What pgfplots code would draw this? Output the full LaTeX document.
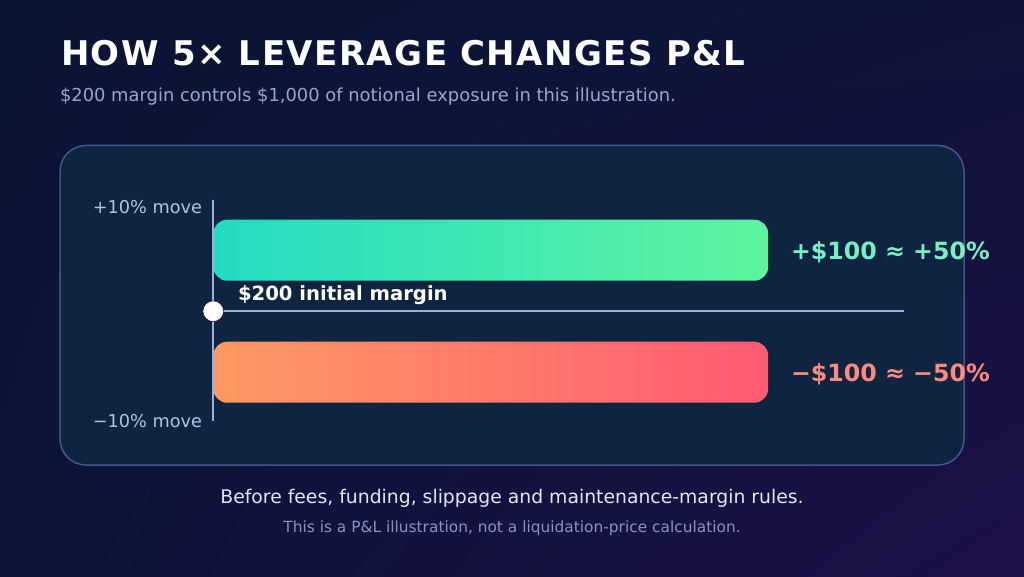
\documentclass[border=0pt]{standalone}
\usepackage{pgfplots}
\usepackage{fontspec}
\usetikzlibrary{shadings}
\pgfplotsset{compat=1.18}
\setmainfont{DejaVu Sans}
\newfontfamily\titlefont[LetterSpace=4.3]{DejaVu Sans}
\definecolor{bgTL}{HTML}{0A1434}
\definecolor{bgTR}{HTML}{10143A}
\definecolor{bgBL}{HTML}{0C1438}
\definecolor{bgBR}{HTML}{1D1048}
\definecolor{panel}{HTML}{0F2441}
\definecolor{panelb}{HTML}{46558C}
\definecolor{axisc}{HTML}{9AAEDF}
\definecolor{upA}{HTML}{22DCC2}
\definecolor{upB}{HTML}{5EF5A0}
\definecolor{dnA}{HTML}{FF9A62}
\definecolor{dnB}{HTML}{FF5A72}
\definecolor{upT}{HTML}{76F2C2}
\definecolor{dnT}{HTML}{FF8A80}
\definecolor{sub}{HTML}{98A6CF}
\definecolor{lab}{HTML}{B4C2E2}
\definecolor{foot}{HTML}{DFE6F5}
\definecolor{foot2}{HTML}{8892C0}
\newcommand{\fs}[1]{\fontsize{#1pt}{#1pt}\selectfont}
\pgfplotstableread{
value pos
100 1
}\uptable
\pgfplotstableread{
value pos
100 -1
}\downtable
\begin{document}
\begin{tikzpicture}[x=1pt,y=1pt]
\shade[upper left=bgTL,upper right=bgTR,lower left=bgBL,lower right=bgBR] (0,0) rectangle (1024,576);
\draw[panelb,fill=panel,line width=1.5pt,rounded corners=26pt] (60,576-145.5) rectangle (964,576-465);
\begin{axis}[at={(0pt,0pt)},anchor=south west,scale only axis,width=1024pt,height=576pt,
  xmin=-38.42,xmax=146.084,ymin=-4.341,ymax=5.102,axis lines=none,ticks=none,clip=false]
\addplot[xbar,bar width=61pt,draw=none,left color=upA,right color=upB,rounded corners=14pt] table[x=value,y=pos] {\uptable};
\addplot[xbar,bar width=61pt,draw=none,left color=dnA,right color=dnB,rounded corners=14pt] table[x=value,y=pos] {\downtable};
\addplot[axisc,line width=2pt,no marks] coordinates {(0,1.828) (0,-1.795)};
\addplot[axisc,line width=2pt,no marks] coordinates {(0,0) (124.5,0)};
\addplot[only marks,mark=*,mark size=10.3pt,mark options={fill=white,draw=none}] coordinates {(0,0)};
\end{axis}
\begin{scope}[every node/.style={inner sep=0pt,outer sep=0pt}]
\node[anchor=base west,text=white] at (61,576-66) {\fs{34}\bfseries\titlefont HOW 5× LEVERAGE CHANGES P\&L};
\node[anchor=base west,text=sub] at (60,576-102) {\fs{17.9}\$200 margin controls \$1,000 of notional exposure in this illustration.};
\node[anchor=base east,text=lab] at (202,576-214) {\fs{17.7}+10\% move};
\node[anchor=base east,text=lab] at (202,576-427) {\fs{17.7}−10\% move};
\node[anchor=base west,text=white] at (238,576-300) {\fs{19.6}\bfseries \$200 initial margin};
\node[anchor=base west,text=upT] at (791,576-260) {\fs{23.7}\bfseries +\$100 ≈ +50\%};
\node[anchor=base west,text=dnT] at (791,576-381) {\fs{23.7}\bfseries −\$100 ≈ −50\%};
\node[anchor=base,text=foot] at (512,576-503) {\fs{18.8}Before fees, funding, slippage and maintenance-margin rules.};
\node[anchor=base,text=foot2] at (512,576-532) {\fs{15.4}This is a P\&L illustration, not a liquidation-price calculation.};
\end{scope}
\end{tikzpicture}
\end{document}
